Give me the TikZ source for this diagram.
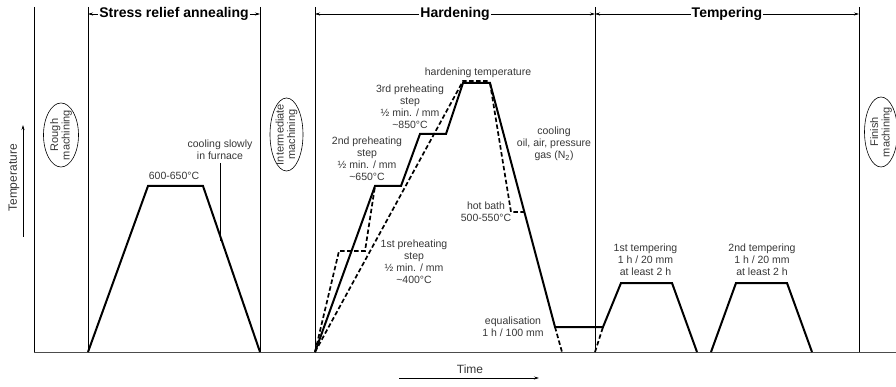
\documentclass[tikz,border=0pt]{standalone}
\usepackage{fontspec}
\setmainfont{Liberation Sans}
\usetikzlibrary{arrows.meta,shapes.geometric}

\definecolor{labelgray}{RGB}{55,55,55}

\tikzset{
  curve/.style={line width=2pt,line join=miter},
  dashcurve/.style={line width=1.7pt,dash pattern=on 4.5pt off 2.5pt},
  phaseline/.style={line width=0.8pt},
  axisline/.style={line width=1pt,draw=black!70},
  spanarrow/.style={{Stealth[length=5pt,width=3pt]}-{Stealth[length=5pt,width=3pt]},line width=0.6pt},
  axisarrow/.style={-{Stealth[length=5pt,width=3pt]},line width=0.7pt},
  headlabel/.style={font=\fontsize{14}{16}\selectfont\bfseries,fill=white,inner sep=1pt},
  steplabel/.style={font=\fontsize{10.5}{12}\selectfont,align=center,text=labelgray,inner sep=0pt},
  axislabel/.style={font=\fontsize{12}{14}\selectfont,text=labelgray,inner sep=0pt},
  machining/.style={ellipse,draw,line width=0.6pt,rotate=90,inner sep=0pt},
  machtext/.style={rotate=90,align=center,inner sep=0pt,font=\fontsize{11}{11.5}\selectfont,text=labelgray}
}

\begin{document}
\begin{tikzpicture}[x=1pt,y=-1pt]
	\useasboundingbox (0,0) rectangle (896,387);

	%frame
	\coordinate (top0) at (34,7);
	\coordinate (org)  at (34,352);
	\coordinate (far)  at (896,352);
	\draw[axisline] (org)--(far);				%time axis
	\draw[phaseline] (top0)--(org);			%left border

	%phase borders
	\coordinate (s1) at (88,7);   \coordinate (b1) at (88,352);
	\coordinate (s2) at (260,7);  \coordinate (b2) at (260,352);
	\coordinate (s3) at (315,7);  \coordinate (b3) at (315,352);
	\coordinate (s4) at (595,7);  \coordinate (b4) at (595,352);
	\coordinate (s5) at (859,7);  \coordinate (b5) at (859,352);
	\draw[phaseline] (s1)--(b1);
	\draw[phaseline] (s2)--(b2);
	\draw[phaseline] (s3)--(b3);
	\draw[phaseline] (s4)--(b4);
	\draw[phaseline] (s5)--(b5);

	%phase spans
	\coordinate (h1) at (88,14);  \coordinate (h2) at (260,14);
	\coordinate (h3) at (315,14); \coordinate (h4) at (595,14);
	\coordinate (h5) at (859,14);
	\draw[spanarrow] (h1)--node[headlabel] (stress) {Stress relief annealing} (h2);
	\draw[spanarrow] (h3)--node[headlabel] (harden) {Hardening} (h4);
	\draw[spanarrow] (h4)--node[headlabel] (temper) {Tempering} (h5);

	%axes labels
	\coordinate (tlo) at (23,237); \coordinate (thi) at (23,125);
	\draw[axisarrow] (tlo)--(thi);
	\node[axislabel,rotate=90] (temp) at (14,178) {Temperature};
	\coordinate (xlo) at (399,378); \coordinate (xhi) at (539,378);
	\draw[axisarrow] (xlo)--(xhi);
	\node[axislabel] (time) at (470,369) {Time};

	%machining
	\node[machining,minimum width=64pt,minimum height=35pt] (rough) at (61,135) {};
	\node[machtext] at (rough.center) {Rough\\machining};
	\node[machining,minimum width=73pt,minimum height=33pt] (inter) at (286.5,134.5) {};
	\node[machtext] at (inter.center) {Intermediate\\machining};
	\node[machining,minimum width=70pt,minimum height=33pt] (finish) at (881,132) {};
	\node[machtext] at (finish.center) {Finish\\machining};

	%stress relief annealing
	\draw[curve] (88,352)--(148,186)--(203,186)--(260,352);
	\node[steplabel] (sr) at (174,176) {600-650°C};
	\node[steplabel] (slow) at (220,149.5) {cooling slowly\\in furnace};
	\coordinate (slowtop) at (220,163);
	\coordinate (slowend) at (220,241);
	\draw[line width=0.7pt] (slowtop)--(slowend);

	%hardening, solid
	\draw[curve] (315,352)--(375,186)--(401,186)--(420,134)--(446,134)--(463,83)--(490,83)--(555,327)--(603,327)--(621,283)--(672,283)--(697,352);
	%hardening, dashed
	\draw[dashcurve] (315,352)--(339,251)--(365,251)--(375,186);	%with 1st step
	\draw[dashcurve] (315,352)--(463,81)--(490,81);				%direct
	\draw[dashcurve] (490,83)--(511,212)--(524,212);			%hot bath
	\draw[dashcurve] (555,327)--(562,352);
	\draw[dashcurve] (595,352)--(603,327);

	%2nd tempering
	\draw[curve] (711,352)--(736,283)--(787,283)--(812,352);

	%labels
	\node[steplabel] (htemp) at (478,73) {hardening temperature};
	\node[steplabel] (pre3) at (410,107) {3rd preheating\\step\\½ min. / mm\\\textasciitilde850°C};
	\node[steplabel] (pre2) at (367,159) {2nd preheating\\step\\½ min. / mm\\\textasciitilde650°C};
	\node[steplabel] (pre1) at (414,262) {1st preheating\\step\\½ min. / mm\\\textasciitilde400°C};
	\node[steplabel] (cool) at (554,144) {cooling\\oil, air, pressure\\gas (N\textsubscript{2})};
	\node[steplabel] (bath) at (486,212) {hot bath\\500-550°C};
	\node[steplabel] (equal) at (513,327) {equalisation\\1 h / 100 mm};
	\node[steplabel] (temp1) at (645.5,260) {1st tempering\\1 h / 20 mm\\at least 2 h};
	\node[steplabel] (temp2) at (762,260) {2nd tempering\\1 h / 20 mm\\at least 2 h};
\end{tikzpicture}
\end{document}
